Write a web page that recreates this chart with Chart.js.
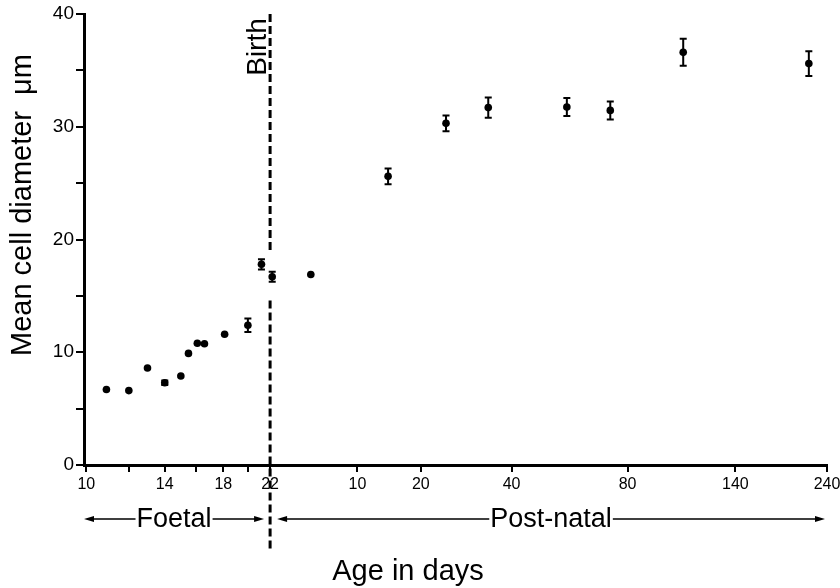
<!DOCTYPE html>
<html>
<head>
<meta charset="utf-8">
<title>Mean cell diameter vs age</title>
<script src="https://cdn.jsdelivr.net/npm/chart.js@4.4.1/dist/chart.umd.min.js"></script>
<style>
  body { margin: 0; background: #fff; }
  #wrap { width: 840px; height: 588px; }
</style>
</head>
<body>
<div id="wrap"><canvas id="cellChart" width="840" height="588"></canvas></div>
<script>
// Age in days counted from conception (birth = day 22)
const ageDays = [10.9, 12, 13, 14, 15, 15.5, 16.1, 16.6, 18.1, 20, 21.2, 22.2, 26.2,
                 36.5, 46.8, 56.1, 78.6, 94.7, 129.5, 222];
const meanDiameter = [6.7, 6.6, 8.6, 7.3, 7.9, 9.9, 10.8, 10.75, 11.6, 12.4, 17.8, 16.7, 16.9,
                      25.6, 30.3, 31.7, 31.75, 31.45, 36.6, 35.6];
const stdError = [0, 0, 0, 0.2, 0, 0, 0, 0, 0, 0.6, 0.45, 0.45, 0,
                  0.7, 0.7, 0.9, 0.8, 0.8, 1.2, 1.1];

// x ticks: position (days from conception) and the label printed under it
const tickAges = [10, 12, 14, 16, 18, 20, 22, 32, 42, 62, 102, 162, 240];
const tickLabels = ['10', '', '14', '', '18', '', '22', '10', '20', '40', '80', '140', '240'];
const birthDay = 22;

const FONT = "'Liberation Sans', Arial, Helvetica, sans-serif";

// Error bars, birth line and the hand-lettered labels
const annotations = {
    id: 'annotations',
    afterDatasetsDraw(chart) {
        const ctx = chart.ctx;
        const x = chart.scales.x, y = chart.scales.y;
        ctx.save();
        ctx.strokeStyle = '#000';
        ctx.lineWidth = 2;
        ageDays.forEach((a, i) => {
            if (!stdError[i]) return;
            const px = x.getPixelForValue(a);
            const top = y.getPixelForValue(meanDiameter[i] + stdError[i]);
            const bot = y.getPixelForValue(meanDiameter[i] - stdError[i]);
            ctx.beginPath();
            ctx.moveTo(px, top); ctx.lineTo(px, bot);
            ctx.moveTo(px - 3.5, top); ctx.lineTo(px + 3.5, top);
            ctx.moveTo(px - 3.5, bot); ctx.lineTo(px + 3.5, bot);
            ctx.stroke();
        });
        ctx.restore();
    },
    afterDraw(chart) {
        const ctx = chart.ctx;
        const x = chart.scales.x, y = chart.scales.y;
        const bx = x.getPixelForValue(birthDay);
        ctx.save();
        ctx.strokeStyle = '#000';
        ctx.fillStyle = '#000';

        // dashed birth line, broken where the birth points sit
        ctx.lineWidth = 3;
        ctx.setLineDash([8, 4]);
        ctx.beginPath();
        ctx.moveTo(bx, y.top);
        ctx.lineTo(bx, y.getPixelForValue(18.8));
        ctx.moveTo(bx, y.getPixelForValue(14.6));
        ctx.lineTo(bx, 549);
        ctx.stroke();
        ctx.setLineDash([]);

        // "Birth"
        ctx.save();
        ctx.translate(bx - 4, y.top + 33);
        ctx.rotate(-Math.PI / 2);
        ctx.font = '28px ' + FONT;
        ctx.textAlign = 'center';
        ctx.textBaseline = 'alphabetic';
        ctx.fillText('Birth', 0, 0);
        ctx.restore();

        // y axis title
        ctx.save();
        ctx.translate(31, 205);
        ctx.rotate(-Math.PI / 2);
        ctx.font = '29px ' + FONT;
        ctx.textAlign = 'center';
        ctx.fillText('Mean cell diameter  \u03bcm', 0, 0);
        ctx.restore();

        // x axis title
        ctx.font = '29px ' + FONT;
        ctx.textAlign = 'center';
        ctx.fillText('Age in days', 408, 580);

        // Foetal / Post-natal arrows
        ctx.font = '27px ' + FONT;
        ctx.lineWidth = 1.5;
        const arrow = (x1, x2, label) => {
            const ay = 519, mid = (x1 + x2) / 2;
            const half = ctx.measureText(label).width / 2;
            ctx.beginPath();
            ctx.moveTo(x1 + 8, ay); ctx.lineTo(mid - half - 1, ay);
            ctx.moveTo(mid + half + 1, ay); ctx.lineTo(x2 - 8, ay);
            ctx.stroke();
            ctx.beginPath();
            ctx.moveTo(x1, ay); ctx.lineTo(x1 + 10, ay - 3); ctx.lineTo(x1 + 10, ay + 3);
            ctx.closePath();
            ctx.moveTo(x2, ay); ctx.lineTo(x2 - 10, ay - 3); ctx.lineTo(x2 - 10, ay + 3);
            ctx.closePath();
            ctx.fill();
            ctx.fillText(label, mid, 527);
        };
        arrow(x.left, bx - 6, 'Foetal');
        arrow(bx + 7, x.right - 2, 'Post-natal');
        ctx.restore();
    }
};

const ctx = document.getElementById('cellChart').getContext('2d');
new Chart(ctx, {
    type: 'scatter',
    data: {
        datasets: [{
            label: 'Mean cell diameter',
            data: ageDays.map((a, i) => ({ x: a, y: meanDiameter[i] })),
            backgroundColor: '#000',
            borderColor: '#000',
            borderWidth: 0,
            pointRadius: 3.8
        }]
    },
    options: {
        responsive: false,
        animation: false,
        devicePixelRatio: 1,
        layout: { padding: { top: 14, right: 13, left: 0, bottom: 0 } },
        plugins: {
            legend: { display: false },
            tooltip: { enabled: false }
        },
        scales: {
            x: {
                type: 'logarithmic',
                min: 9.9,
                max: 240,
                afterBuildTicks: scale => {
                    scale.ticks = tickAges.map(v => ({ value: v }));
                },
                afterFit: scale => {
                    scale.height = 123;
                    scale.paddingLeft = 0;
                    scale.paddingRight = 0;
                },
                grid: { drawOnChartArea: false, drawTicks: true, tickLength: 7, color: '#000', lineWidth: 2 },
                border: { display: true, color: '#000', width: 3 },
                ticks: {
                    autoSkip: false,
                    maxRotation: 0,
                    padding: 3,
                    color: '#000',
                    font: { family: FONT, size: 16 },
                    callback: (value, index) => tickLabels[index]
                }
            },
            y: {
                min: 0,
                max: 40,
                afterFit: scale => { scale.width = 84; },
                grid: { drawOnChartArea: false, drawTicks: true, tickLength: 8, color: '#000', lineWidth: 2 },
                border: { display: true, color: '#000', width: 3 },
                ticks: {
                    stepSize: 5,
                    padding: 2,
                    color: '#000',
                    font: { family: FONT, size: 19 },
                    callback: v => (v % 10 === 0 ? v : '')
                }
            }
        }
    },
    plugins: [annotations]
});
</script>
</body>
</html>
